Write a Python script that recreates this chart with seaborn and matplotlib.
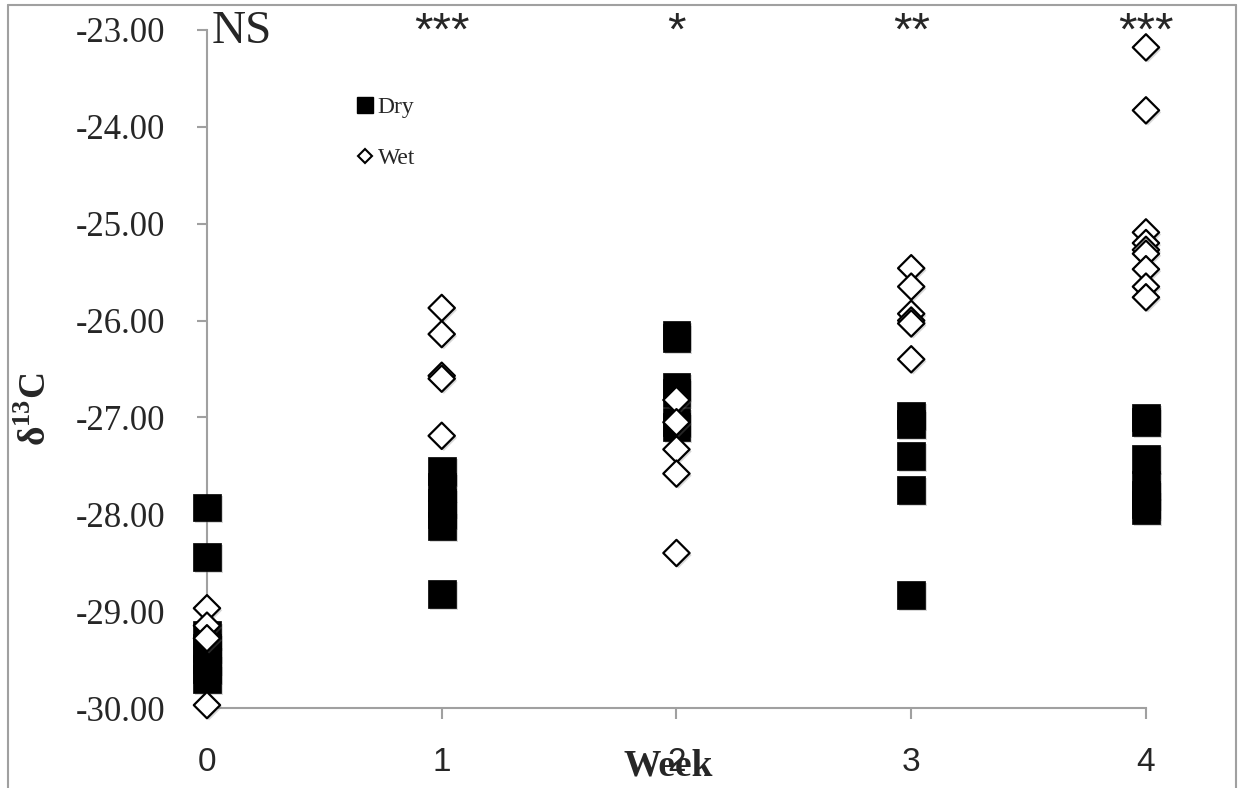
import matplotlib
matplotlib.use("Agg")
import matplotlib.pyplot as plt
import matplotlib.patheffects as pe
from matplotlib.lines import Line2D
import pandas as pd
import seaborn as sns

# values, one list per week
dry_w0 = [-27.93, -28.44, -29.25, -29.38, -29.50, -29.60, -29.70]
dry_w1 = [-27.55, -27.72, -27.88, -28.00, -28.12, -28.82]
dry_w2 = [-26.15, -26.18, -26.68, -26.75, -27.05, -27.10]
dry_w3 = [-26.98, -27.07, -27.40, -27.75, -28.83]
dry_w4 = [-27.00, -27.05, -27.43, -27.70, -27.80, -27.90, -27.96]

wet_w0 = [-28.97, -29.15, -29.28, -29.97]
wet_w1 = [-25.87, -26.14, -26.57, -26.60, -27.19]
wet_w2 = [-26.82, -27.05, -27.33, -27.58, -28.40]
wet_w3 = [-25.46, -25.65, -25.93, -26.00, -26.03, -26.40]
wet_w4 = [-23.18, -23.83, -25.09, -25.20, -25.27, -25.31, -25.47, -25.65, -25.76]

weeks = [0, 1, 2, 3, 4]
signif = ["NS", "***", "*", "**", "***"]
yticks = [-23, -24, -25, -26, -27, -28, -29, -30]


def to_frame(groups, label):
    rows = []
    for w, vals in zip(weeks, groups):
        for v in vals:
            rows.append({"week": w, "d13C": v, "treatment": label})
    return pd.DataFrame(rows)


dry = to_frame([dry_w0, dry_w1, dry_w2, dry_w3, dry_w4], "Dry")
wet = to_frame([wet_w0, wet_w1, wet_w2, wet_w3, wet_w4], "Wet")

sns.set_style("white")
plt.rcParams["axes.unicode_minus"] = False
plt.rcParams["mathtext.fontset"] = "custom"
plt.rcParams["mathtext.rm"] = "Liberation Serif"
plt.rcParams["mathtext.bf"] = "Liberation Serif:bold"

fig = plt.figure(figsize=(12.46, 7.88), dpi=100)
ax = fig.add_axes([0.1661, 0.1015, 0.7536, 0.8605])

shadow = [pe.SimplePatchShadow(offset=(1.5, -1.5), shadow_rgbFace="0.5", alpha=0.3), pe.Normal()]

sns.scatterplot(data=dry, x="week", y="d13C", marker="s", s=400, color="black",
                edgecolor="black", linewidth=0.5, ax=ax, clip_on=False, zorder=3, legend=False)
sns.scatterplot(data=wet, x="week", y="d13C", marker="D", s=180, color="white",
                edgecolor="black", linewidth=1.6, ax=ax, clip_on=False, zorder=4, legend=False)
for coll in ax.collections:
    coll.set_path_effects(shadow)

ax.set_xlim(0, 4)
ax.set_ylim(-30, -23)
ax.set_xticks(weeks)
ax.set_yticks(yticks)
ax.set_yticklabels([f"{t:.2f}" for t in yticks], fontfamily="Liberation Serif", fontsize=25)
ax.set_xticklabels([str(w) for w in weeks], fontfamily="Liberation Sans", fontsize=24)

sns.despine(ax=ax)
for side in ["left", "bottom"]:
    ax.spines[side].set_color("#a0a0a0")
    ax.spines[side].set_linewidth(1.5)
    ax.spines[side].set_zorder(1)
ax.tick_params(axis="y", direction="out", length=7, width=1.5, color="#a0a0a0", pad=23, left=True)
ax.tick_params(axis="x", direction="out", length=8, width=1.5, color="#a0a0a0", pad=20, bottom=True)

ax.set_xlabel("Week", fontfamily="Liberation Serif", fontweight="bold", fontsize=27)
ax.xaxis.set_label_coords(0.491, -0.06)
ax.xaxis.label.set_va("top")
ax.set_ylabel(r"δ$^{\mathbf{13}}$C", fontfamily="Liberation Serif", fontweight="bold", fontsize=27)
ax.yaxis.set_label_coords(-0.163, 0.44)

# significance marks along the top
ax.text(0.005, 0.981, signif[0], transform=ax.transAxes, fontfamily="Liberation Serif",
        fontsize=34, ha="left", va="baseline")
for w, mark in zip(weeks[1:], signif[1:]):
    ax.text(w, -23.15, mark, fontfamily="Liberation Sans", fontsize=34,
            ha="center", va="baseline", clip_on=False)

handles = [
    Line2D([], [], marker="s", linestyle="none", markersize=11.5, markerfacecolor="black",
           markeredgecolor="black", label="Dry"),
    Line2D([], [], marker="D", linestyle="none", markersize=7.5, markerfacecolor="white",
           markeredgecolor="black", markeredgewidth=1.5, label="Wet"),
]
ax.legend(handles=handles, loc="upper left", bbox_to_anchor=(0.158, 0.902), frameon=False,
          prop={"family": "Liberation Serif", "size": 17}, handlelength=0.8,
          handletextpad=0.15, labelspacing=1.25, borderpad=0, borderaxespad=0)

# thin grey frame around the whole chart
fig.add_artist(Line2D([0.0064, 0.0064], [0, 0.9937], color="#a0a0a0", lw=1.5))
fig.add_artist(Line2D([0.0064, 0.992], [0.9937, 0.9937], color="#a0a0a0", lw=1.5))
fig.add_artist(Line2D([0.992, 0.992], [0, 0.9937], color="#a0a0a0", lw=1.5))

fig.savefig("out.png", dpi=100)
